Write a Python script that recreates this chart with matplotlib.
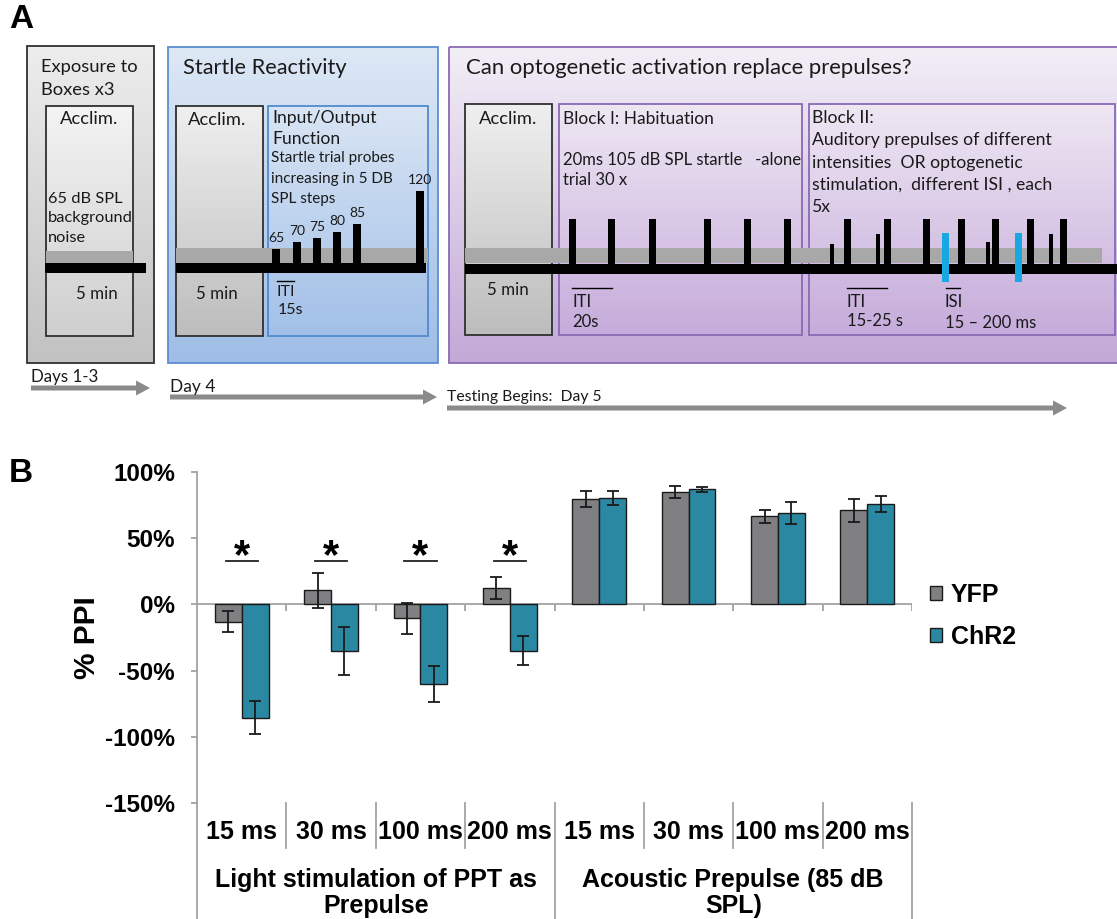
import numpy as np
import matplotlib
matplotlib.use("Agg")
import matplotlib.pyplot as plt
import matplotlib.transforms as mtransforms
from matplotlib.colors import LinearSegmentedColormap
from matplotlib.patches import Rectangle, FancyArrow

# ---- panel B values (% PPI, mean and s.e.m.) ----
ms_labels = ["15 ms", "30 ms", "100 ms", "200 ms", "15 ms", "30 ms", "100 ms", "200 ms"]
group_labels = ["Light stimulation of PPT as\nPrepulse", "Acoustic Prepulse (85 dB\nSPL)"]
yfp_mean = [-13, 10.5, -10.5, 12.5, 79.5, 85, 66.5, 71]
yfp_err = [8, 13.5, 11.5, 8.5, 6, 4.5, 5, 8.5]
chr2_mean = [-85.5, -35, -60, -35, 80.5, 87, 69, 76]
chr2_err = [12.5, 18, 13.5, 11, 5.5, 2, 8.5, 6]
sig_groups = [0, 1, 2, 3]
y_ticks = [-150, -100, -50, 0, 50, 100]

# ---- panel A schematic (pixel layout of the protocol timeline) ----
io_levels = ["65", "70", "75", "80", "85", "120"]
io_pulse_x = [276, 297, 317, 337, 357, 420]
io_pulse_top = [249, 242, 238, 232, 224, 191]
hab_pulse_x = [572, 611, 652, 707, 747, 787]
block2_startle_x = [847, 887, 926, 961, 995, 1030, 1063]
block2_prepulse_x = [832, 878, 988, 1051]
block2_prepulse_top = [244, 234, 242, 234]
block2_light_x = [945, 1018]

GRAY_BAR = "#808083"
TEAL_BAR = "#2a88a2"
AXIS_GRAY = "#a3a3a3"
SANS_A = ["Lato", "DejaVu Sans"]
SANS_B = ["Liberation Sans", "DejaVu Sans"]

fig = plt.figure(figsize=(11.17, 9.19), dpi=100)


def grad_box(ax, x0, y0, x1, y1, top, bottom, edge, lw=1.3, z=1):
    cmap = LinearSegmentedColormap.from_list("g", [top, bottom])
    grad = np.linspace(0, 1, 64).reshape(-1, 1)
    ax.imshow(grad, cmap=cmap, extent=(x0, x1, y1, y0), origin="upper",
              aspect="auto", zorder=z, interpolation="bilinear")
    ax.add_patch(Rectangle((x0, y0), x1 - x0, y1 - y0, fill=False,
                           edgecolor=edge, lw=lw, zorder=z + 0.1))


def txt(ax, x, y, s, size=13, **kw):
    kw.setdefault("ha", "left")
    kw.setdefault("va", "center")
    ax.text(x, y, s, fontsize=size, family=SANS_A, color="#1a1a1a", zorder=8, **kw)


def pulse(ax, xc, top, w=7, bottom=268, color="black", z=6):
    ax.add_patch(Rectangle((xc - w / 2, top), w, bottom - top, color=color, lw=0, zorder=z))


# ================= Panel A =================
axA = fig.add_axes([0, 1 - 450 / 919, 1, 450 / 919])
axA.set_axis_off()

# day 1-3
grad_box(axA, 27, 46, 154, 363, "#ededed", "#c2c2c2", "#303030", z=1)
grad_box(axA, 46, 106, 133, 336, "#f3f3f3", "#cfcfcf", "#303030", z=2)
axA.add_patch(Rectangle((46, 251), 87, 12, color="#a8a8a8", lw=0, zorder=4))
axA.add_patch(Rectangle((45, 263), 101, 10, color="black", lw=0, zorder=5))
txt(axA, 41, 67, "Exposure to", 13.2)
txt(axA, 41, 90, "Boxes x3", 13.2)
txt(axA, 89, 119, "Acclim.", 13.2, ha="center")
txt(axA, 48, 199, "65 dB SPL", 11.8)
txt(axA, 48, 218, "background", 11.8)
txt(axA, 48, 238, "noise", 11.8)
txt(axA, 97, 294, "5 min", 12.2, ha="center")

# day 4
grad_box(axA, 168, 47, 438, 363, "#dde8f5", "#9fbde6", "#5b8fd0", z=1)
grad_box(axA, 176, 106, 263, 336, "#efefef", "#bdbdbd", "#303030", z=2)
grad_box(axA, 268, 106, 428, 336, "#d9e5f4", "#a2c0e8", "#4f8bd0", z=2)
axA.add_patch(Rectangle((176, 248), 252, 15, color="#a8a8a8", lw=0, zorder=4))
axA.add_patch(Rectangle((176, 263), 250, 10, color="black", lw=0, zorder=5))
for xc, top, lab in zip(io_pulse_x, io_pulse_top, io_levels):
    pulse(axA, xc, top, w=8)
    txt(axA, xc, top - 5, lab, 10, ha="center", va="bottom")
txt(axA, 183, 68, "Startle Reactivity", 15.7)
txt(axA, 217, 120, "Acclim.", 13.2, ha="center")
txt(axA, 217, 294, "5 min", 12.2, ha="center")
txt(axA, 272, 118, "Input/Output", 12.6)
txt(axA, 272, 139, "Function", 12.6)
txt(axA, 271, 158, "Startle trial probes", 11)
txt(axA, 271, 179, "increasing in 5 DB", 11)
txt(axA, 271, 199, "SPL steps", 11)
axA.plot([277, 294], [281, 281], color="black", lw=1, zorder=8)
txt(axA, 277, 292, "ITI", 11.5)
txt(axA, 278, 310, "15s", 11.5)

# day 5
grad_box(axA, 449, 47, 1125, 363, "#f2eef6", "#c3a9d7", "#8a69b5", z=1)
grad_box(axA, 465, 104, 552, 335, "#efefef", "#bdbdbd", "#303030", z=2)
grad_box(axA, 559, 104, 802, 335, "#eee7f3", "#c6acdb", "#8a69b5", z=2)
grad_box(axA, 809, 104, 1115, 335, "#eee7f3", "#c6acdb", "#8a69b5", z=2)
axA.add_patch(Rectangle((465, 248), 637, 15, color="#a8a8a8", lw=0, zorder=4))
axA.add_patch(Rectangle((465, 264), 660, 10, color="black", lw=0, zorder=5))
for xc in hab_pulse_x:
    pulse(axA, xc, 219)
for xc in block2_startle_x:
    pulse(axA, xc, 219)
for xc, top in zip(block2_prepulse_x, block2_prepulse_top):
    pulse(axA, xc, top, w=3.5)
for xc in block2_light_x:
    axA.add_patch(Rectangle((xc - 3.5, 233), 7, 49, color="#17a8e1", lw=0, zorder=7))
txt(axA, 466, 68, "Can optogenetic activation replace prepulses?", 15.9)
txt(axA, 508, 119, "Acclim.", 13.2, ha="center")
txt(axA, 508, 290, "5 min", 12.2, ha="center")
txt(axA, 563, 119, "Block I: Habituation", 12.5)
txt(axA, 563, 160, "20ms 105 dB SPL startle   -alone", 12)
txt(axA, 563, 180, "trial 30 x", 12)
axA.plot([572, 612], [288, 288], color="black", lw=1, zorder=8)
txt(axA, 572, 302, "ITI", 12)
txt(axA, 572, 322, "20s", 12)
txt(axA, 812, 118, "Block II:", 12.7)
txt(axA, 812, 140, "Auditory prepulses of different", 12.7)
txt(axA, 812, 163, "intensities  OR optogenetic", 12.7)
txt(axA, 812, 185, "stimulation,  different ISI , each", 12.7)
txt(axA, 812, 207, "5x", 12.7)
axA.plot([847, 887], [288, 288], color="black", lw=1, zorder=8)
txt(axA, 847, 302, "ITI", 12)
txt(axA, 847, 321, "15-25 s", 12)
axA.plot([946, 960], [288, 288], color="black", lw=1, zorder=8)
txt(axA, 945, 302, "ISI", 12)
txt(axA, 945, 323, "15 \u2013 200 ms", 12)

# day arrows
for x0, x1, y, lab, ly, fs in [(31, 150, 388, "Days 1-3", 377, 12.2),
                               (170, 437, 397, "Day 4", 387, 12.5),
                               (447, 1067, 408, "Testing Begins:  Day 5", 397, 11.3)]:
    axA.add_patch(FancyArrow(x0, y, x1 - x0, 0, width=5, head_width=15, head_length=14,
                             length_includes_head=True, color="#8a8a8a", lw=0, zorder=3))
    txt(axA, x0, ly, lab, fs)

axA.text(9, 20, "A", fontsize=24, fontweight="bold", family=SANS_B, ha="left", va="center")
axA.set_xlim(0, 1117)
axA.set_ylim(450, 0)

# ================= Panel B =================
axB = fig.add_axes([197 / 1117, 1 - 803 / 919, 715 / 1117, 331 / 919])
x = np.arange(len(ms_labels))
w = 0.3
bars_y = axB.bar(x - w / 2, yfp_mean, w, color=GRAY_BAR, edgecolor="#1a1a1a", lw=1, label="YFP", zorder=3)
bars_c = axB.bar(x + w / 2, chr2_mean, w, color=TEAL_BAR, edgecolor="#1a1a1a", lw=1, label="ChR2", zorder=3)
axB.errorbar(x - w / 2, yfp_mean, yerr=yfp_err, fmt="none", ecolor="#1a1a1a", elinewidth=1.3, capsize=4, capthick=1.3, zorder=4)
axB.errorbar(x + w / 2, chr2_mean, yerr=chr2_err, fmt="none", ecolor="#1a1a1a", elinewidth=1.3, capsize=4, capthick=1.3, zorder=4)

axB.axhline(0, color=AXIS_GRAY, lw=1.3, zorder=2)
axB.vlines(x + 0.5, -5.3, 0, color=AXIS_GRAY, lw=1.3, zorder=2)

for g in sig_groups:
    axB.plot([g - 0.18, g + 0.18], [32.5, 32.5], color="#222222", lw=1.3)
    axB.text(g, 27.5, "*", ha="center", va="baseline", fontsize=30, fontweight="bold", family=SANS_B)

axB.set_xlim(-0.5, len(ms_labels) - 0.5)
axB.set_ylim(-150, 100)
axB.set_yticks(y_ticks)
axB.set_yticklabels([f"{v}%" for v in y_ticks])
axB.set_xticks(x)
axB.set_xticklabels(ms_labels)
for lab in axB.get_yticklabels():
    lab.set_fontweight("bold")
    lab.set_fontsize(17.5)
    lab.set_family(SANS_B)
for lab in axB.get_xticklabels():
    lab.set_fontweight("bold")
    lab.set_fontsize(18)
    lab.set_family(SANS_B)
axB.tick_params(axis="x", length=0, pad=12)
axB.tick_params(axis="y", length=4.3, color=AXIS_GRAY, width=1.3, pad=11.5)
for side in ["top", "right", "bottom"]:
    axB.spines[side].set_visible(False)
axB.spines["left"].set_color(AXIS_GRAY)
axB.spines["left"].set_linewidth(1.3)

trans = mtransforms.blended_transform_factory(axB.transData, axB.transAxes)
for b in [-0.5, 3.5, 7.5]:
    axB.plot([b, b], [0, -0.36], color=AXIS_GRAY, lw=1.3, transform=trans, clip_on=False)
for b in [0.5, 1.5, 2.5, 4.5, 5.5, 6.5]:
    axB.plot([b, b], [0, -0.136], color=AXIS_GRAY, lw=1.3, transform=trans, clip_on=False)
for gx, glab in zip([1.5, 5.5], group_labels):
    axB.text(gx, -0.197, glab, transform=trans, ha="center", va="top", fontsize=18,
             fontweight="bold", family=SANS_B, linespacing=1.08)

axB.legend(handles=[bars_y, bars_c], loc="center left", bbox_to_anchor=(1.025, 0.565),
           frameon=False, borderpad=0, borderaxespad=0, handlelength=0.5, handleheight=0.5,
           handletextpad=0.35, labelspacing=0.7,
           prop={"family": SANS_B, "weight": "bold", "size": 18})

fig.text(87 / 1117, 1 - 638 / 919, "% PPI", rotation=90, ha="center", va="center",
         fontsize=21.5, fontweight="bold", family=SANS_B)
fig.text(9 / 1117, 1 - 473 / 919, "B", fontsize=24, fontweight="bold", family=SANS_B,
         ha="left", va="center")

fig.savefig("out.png", dpi=100)
